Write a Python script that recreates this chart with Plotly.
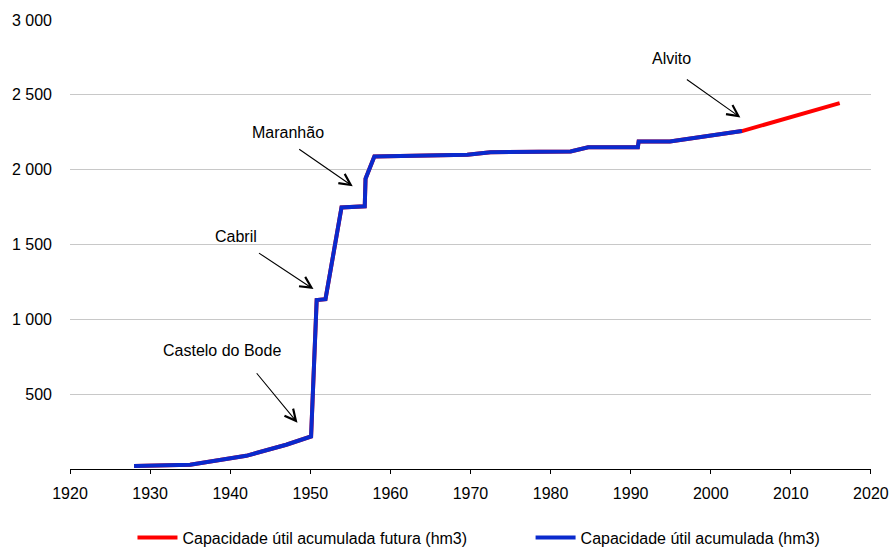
import plotly.graph_objects as go

# Historical accumulated useful capacity (hm3)
years = [1928, 1935, 1942, 1947, 1950.1, 1950.8, 1951.9, 1953.9, 1956.8, 1956.9,
         1958.0, 1969.6, 1972.5, 1982.5, 1984.7, 1990.9, 1991.0, 1994.9, 2003.9]
capacity = [20, 28, 88, 162, 217, 1129, 1135, 1747, 1755, 1940,
            2088, 2100, 2117, 2122, 2150, 2150, 2189, 2189, 2258]
# Future extension
future_years = [2016.1]
future_capacity = [2445]

ytick_vals = [500, 1000, 1500, 2000, 2500, 3000]
ytick_text = ["500", "1 000", "1 500", "2 000", "2 500", "3 000"]
xtick_vals = list(range(1920, 2021, 10))

# Annotations: label, arrow tip (year, value), tail offset (px), text position (year, value)
labels = ["Castelo do Bode", "Cabril", "Maranhão", "Alvito"]
tip_x = [1948.4, 1950.4, 1955.3, 2003.7]
tip_y = [309, 1202, 1889, 2349]
tail_dx = [-42, -56, -55, -55]
tail_dy = [-51, -37, -38, -39]
text_x = [1939.0, 1940.7, 1947.2, 1995.1]
text_y = [789, 1555, 2249, 2742]

FONT = "Liberation Sans, Arial, sans-serif"
FS = 16
RED = "#FF0000"
BLUE = "#0A2ACD"

fig = go.Figure()
fig.add_trace(go.Scatter(
    x=years + future_years, y=capacity + future_capacity, mode="lines",
    name="Capacidade útil acumulada futura (hm3)",
    line=dict(color=RED, width=4), legend="legend"))
fig.add_trace(go.Scatter(
    x=years, y=capacity, mode="lines",
    name="Capacidade útil acumulada (hm3)",
    line=dict(color=BLUE, width=4), legend="legend2"))

annotations = []
for lab, tx, ty, dx, dy, lx, ly in zip(labels, tip_x, tip_y, tail_dx, tail_dy, text_x, text_y):
    annotations.append(dict(x=tx, y=ty, xref="x", yref="y", ax=dx, ay=dy,
                            text="", showarrow=True, arrowhead=5, arrowsize=2.0,
                            arrowwidth=1.1, arrowcolor="black"))
    annotations.append(dict(x=lx, y=ly, xref="x", yref="y", text=lab,
                            showarrow=False, font=dict(family=FONT, size=FS, color="black")))

legend_common = dict(orientation="h", yanchor="middle", xanchor="left", y=-0.153,
                     font=dict(family=FONT, size=FS, color="black"), itemwidth=40,
                     bgcolor="rgba(0,0,0,0)")

fig.update_layout(
    width=889, height=547,
    margin=dict(l=70, r=18, t=20, b=78, autoexpand=False),
    paper_bgcolor="white", plot_bgcolor="white",
    font=dict(family=FONT, size=FS, color="black"),
    showlegend=True,
    legend=dict(x=0.078, **legend_common),
    legend2=dict(x=0.575, **legend_common),
    annotations=annotations,
)
fig.update_xaxes(range=[1920, 2020.01], tickvals=xtick_vals, showgrid=False,
                 showline=True, linecolor="black", linewidth=1,
                 ticks="outside", ticklen=4, tickcolor="black",
                 ticklabelstandoff=6, automargin=False, ticklabeloverflow="allow",
                 tickfont=dict(family=FONT, size=FS, color="black"), zeroline=False)
fig.update_yaxes(range=[0, 3000], tickvals=ytick_vals, ticktext=ytick_text,
                 showgrid=True, gridcolor="#C8C8C8", gridwidth=1,
                 showline=False, zeroline=False, ticks="",
                 ticklabelstandoff=17, automargin=False,
                 tickfont=dict(family=FONT, size=FS, color="black"))

# remove the page's default 8px body margin so the figure fills the window exactly
fig.write_html("out.html", config={"displayModeBar": False},
               post_script="document.body.style.margin='0';")
